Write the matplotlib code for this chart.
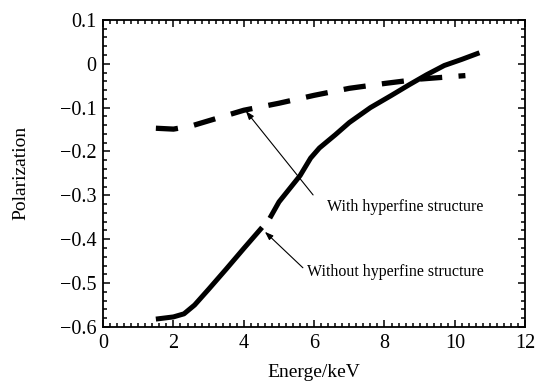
import numpy as np
import matplotlib
matplotlib.use("Agg")
import matplotlib.pyplot as plt
from matplotlib.ticker import MultipleLocator

plt.rcParams['font.family'] = ['Liberation Serif', 'DejaVu Serif']
plt.rcParams['mathtext.fontset'] = 'stix'

# With hyperfine structure (dashed)
hfs_x = [1.5, 2.0, 2.5, 3.0, 3.5, 4.0, 5.0, 6.0, 7.0, 8.0, 9.0, 10.3]
hfs_y = [-0.147, -0.149, -0.142, -0.130, -0.118, -0.106, -0.090, -0.072, -0.056, -0.045, -0.035, -0.027]

# Without hyperfine structure (solid, with a gap near the annotation)
nohfs_x = [1.5, 2.0, 2.3, 2.6, 3.0, 3.5, 4.0, 4.52, np.nan, 4.74, 5.0, 5.6, 5.9, 6.15, 6.6, 7.0, 7.6, 8.2, 8.7, 9.2, 9.7, 10.2, 10.7]
nohfs_y = [-0.582, -0.577, -0.570, -0.550, -0.514, -0.468, -0.421, -0.373, np.nan, -0.352, -0.315, -0.255, -0.215, -0.192, -0.162, -0.134, -0.100, -0.072, -0.048, -0.025, -0.004, 0.010, 0.025]

xticks = [0, 2, 4, 6, 8, 10, 12]
yticks = [0.1, 0, -0.1, -0.2, -0.3, -0.4, -0.5, -0.6]

fig = plt.figure(figsize=(5.37, 3.82), dpi=100)
ax = fig.add_axes([0.192, 0.144, 0.786, 0.804])

ax.plot(nohfs_x, nohfs_y, color='black', lw=3.6, solid_capstyle='butt', solid_joinstyle='round')
ax.plot(hfs_x, hfs_y, color='black', lw=3.8, linestyle=(0, (4.2, 3.1)), dash_capstyle='butt')

ax.set_xlim(0, 12)
ax.set_ylim(-0.6, 0.1)
ax.set_xticks(xticks)
ax.set_yticks(yticks)
ax.set_xticklabels([str(v) for v in xticks])
ax.set_yticklabels(['0.1', '0', '\u22120.1', '\u22120.2', '\u22120.3', '\u22120.4', '\u22120.5', '\u22120.6'])
ax.xaxis.set_minor_locator(MultipleLocator(0.2))
ax.yaxis.set_minor_locator(MultipleLocator(0.02))
ax.tick_params(which='both', direction='in', top=True, right=True, labelsize=14.5, width=1.1)
ax.tick_params(which='major', length=5, pad=5)
ax.tick_params(which='minor', length=2.8)
for s in ax.spines.values():
    s.set_linewidth(1.3)

ax.set_xlabel('Energe/keV', fontsize=14, labelpad=8)
ax.set_ylabel('Polarization', fontsize=14, labelpad=22)

arrowprops = dict(arrowstyle='-|>,head_length=0.5,head_width=0.18', color='black', lw=0.8,
                  shrinkA=0, shrinkB=0)
ax.annotate('', xy=(4.06, -0.108), xytext=(5.97, -0.299), arrowprops=arrowprops)
ax.text(6.36, -0.326, 'With hyperfine structure', fontsize=11.5, va='center', ha='left')
ax.annotate('', xy=(4.6, -0.383), xytext=(5.68, -0.465), arrowprops=arrowprops)
ax.text(5.8, -0.475, 'Without hyperfine structure', fontsize=11.5, va='center', ha='left')

fig.savefig('out.png', dpi=100)
